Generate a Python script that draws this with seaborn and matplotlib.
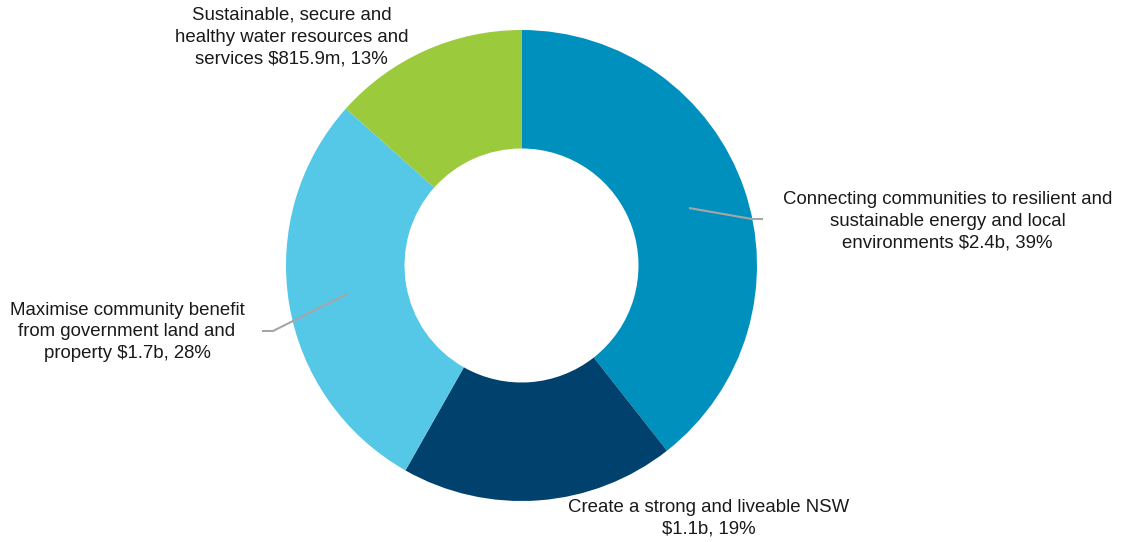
import matplotlib
matplotlib.use("Agg")
import matplotlib.pyplot as plt
import seaborn as sns

# Portfolio funding by outcome (billions of dollars)
outcomes = [
    "Connecting communities to resilient and\nsustainable energy and local\nenvironments",
    "Create a strong and liveable NSW\n",
    "Maximise community benefit\nfrom government land and\nproperty",
    "Sustainable, secure and\nhealthy water resources and\nservices",
]
funding_b = [2.40, 1.145, 1.73, 0.8159]
amount_text = ["$2.4b", "$1.1b", "$1.7b", "$815.9m"]
slice_colors = ["#0090BE", "#00416E", "#55C8E8", "#9BCA3C"]

sns.set_theme(style="white")
plt.rcParams["font.family"] = ["Liberation Sans", "DejaVu Sans"]

W, H = 1123, 542
fig = plt.figure(figsize=(W / 100, H / 100), dpi=100)
ax = fig.add_axes([0, 0, 1, 1])
ax.set_xlim(0, W)
ax.set_ylim(0, H)
ax.set_aspect("equal")
ax.axis("off")

cx, cy, r = 521.5, H - 265.5, 235.5
palette = sns.color_palette(slice_colors)
ax.pie(funding_b, colors=palette, startangle=90, counterclock=False,
       center=(cx, cy), radius=r, frame=True,
       wedgeprops=dict(width=r - 117, edgecolor="none", linewidth=0))
ax.set_xlim(0, W)
ax.set_ylim(0, H)
ax.axis("off")

total = sum(funding_b)
pct = [round(v / total * 100) for v in funding_b]
labels = []
for name, amt, p in zip(outcomes, amount_text, pct):
    if name.endswith("\n"):
        labels.append(name + f"{amt}, {p}%")
    else:
        labels.append(name + f" {amt}, {p}%")

# label anchor points (centre of each text block)
label_pos = [(947.5, H - 221), (709, H - 518), (127, H - 332), (291.5, H - 37)]
for txt, (x, y) in zip(labels, label_pos):
    ax.text(x, y, txt, ha="center", va="center", fontsize=13.4,
            linespacing=1.37, color="#1a1a1a")

# leader lines
ax.plot([689, 752, 763], [H - 208, H - 219, H - 219], color="#A6A6A6", lw=1.5,
        solid_capstyle="butt")
ax.plot([347, 273, 262], [H - 294, H - 331, H - 331], color="#A6A6A6", lw=1.5,
        solid_capstyle="butt")

fig.savefig("out.png", dpi=100, facecolor="white")
